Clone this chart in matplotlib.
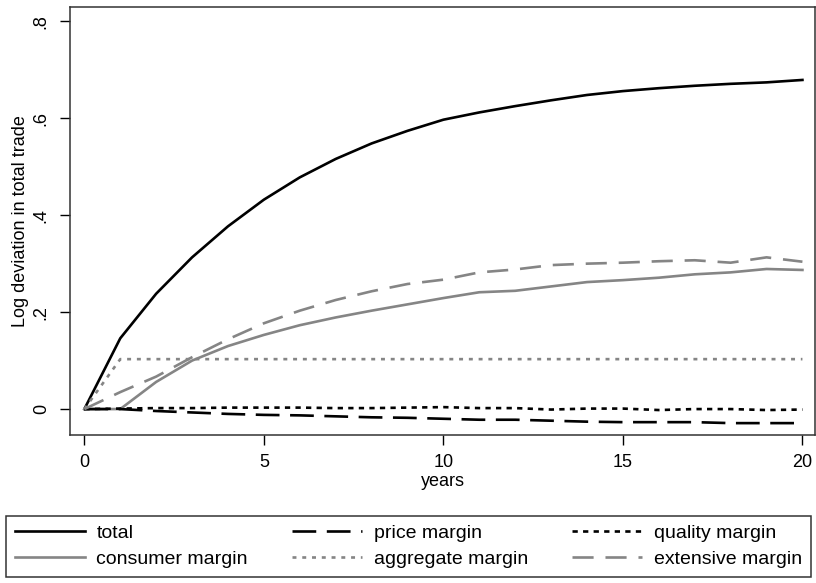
import numpy as np
import matplotlib
matplotlib.use("Agg")
import matplotlib.pyplot as plt

plt.rcParams['font.family'] = ['Liberation Sans', 'DejaVu Sans']

years = np.arange(0, 21)

total = [0, .146, .238, .313, .377, .432, .478, .516, .548, .574, .597,
         .612, .625, .637, .648, .656, .662, .667, .671, .674, .679]
price = [0, 0, -.004, -.007, -.010, -.012, -.013, -.015, -.017, -.018, -.020,
         -.022, -.022, -.024, -.026, -.027, -.027, -.027, -.029, -.029, -.029]
quality = [0, .001, .002, .002, .003, .003, .003, .002, .002, .003, .004,
           .002, .002, -.001, .001, .001, -.002, .000, .000, -.002, -.001]
consumer = [0, 0, .056, .100, .130, .153, .173, .189, .203, .216, .229,
            .241, .244, .253, .262, .266, .271, .278, .282, .289, .287]
aggregate = [0] + [.103] * 20
extensive = [0, .035, .067, .107, .144, .177, .203, .225, .243, .258, .267,
             .282, .288, .297, .300, .302, .305, .307, .302, .313, .304]

grey = '#858585'

fig = plt.figure(figsize=(8.16, 5.83), dpi=100)
ax = fig.add_axes([70/816, 1 - 435/583, 745/816, 428/583])

ax.plot(years, total, color='black', lw=1.9, label='total')
ax.plot(years, consumer, color=grey, lw=1.9, label='consumer margin')
ax.plot(years, price, color='black', lw=1.9, dashes=(9, 4), label='price margin')
ax.plot(years, aggregate, color=grey, lw=1.9, dashes=(1.5, 2.2), label='aggregate margin')
ax.plot(years, quality, color='black', lw=1.9, dashes=(2, 2), label='quality margin')
ax.plot(years, extensive, color=grey, lw=1.9, dashes=(8, 4.5), label='extensive margin')

ax.set_xlim(-0.4, 20.35)
ax.set_ylim(-0.0535, 0.8295)
ax.set_xticks([0, 5, 10, 15, 20])
ax.set_yticks([0, .2, .4, .6, .8])
ax.set_yticklabels(['0', '.2', '.4', '.6', '.8'], rotation=90, va='center')
ax.tick_params(direction='out', length=7, width=1, labelsize=13, colors='black')
ax.tick_params(axis='y', pad=7.5)
ax.tick_params(axis='x', pad=7)
for s in ax.spines.values():
    s.set_linewidth(1.1)
    s.set_color('#333333')

ax.set_xlabel('years', fontsize=13, labelpad=1)
ax.set_ylabel('Log deviation in total trade', fontsize=13, labelpad=3)

handles, labels = ax.get_legend_handles_labels()
leg = fig.legend(handles, labels, ncol=3, loc='lower left',
                 bbox_to_anchor=(6/816, 6/583, 805/816, 66/583), mode='expand',
                 fontsize=14, frameon=True, fancybox=False, handlelength=3.6,
                 borderaxespad=0, borderpad=0.45, columnspacing=0.5,
                 handletextpad=0.6, labelspacing=0.45)
leg.get_frame().set_edgecolor('black')
leg.get_frame().set_linewidth(1.1)

fig.savefig('out.png', dpi=100)
